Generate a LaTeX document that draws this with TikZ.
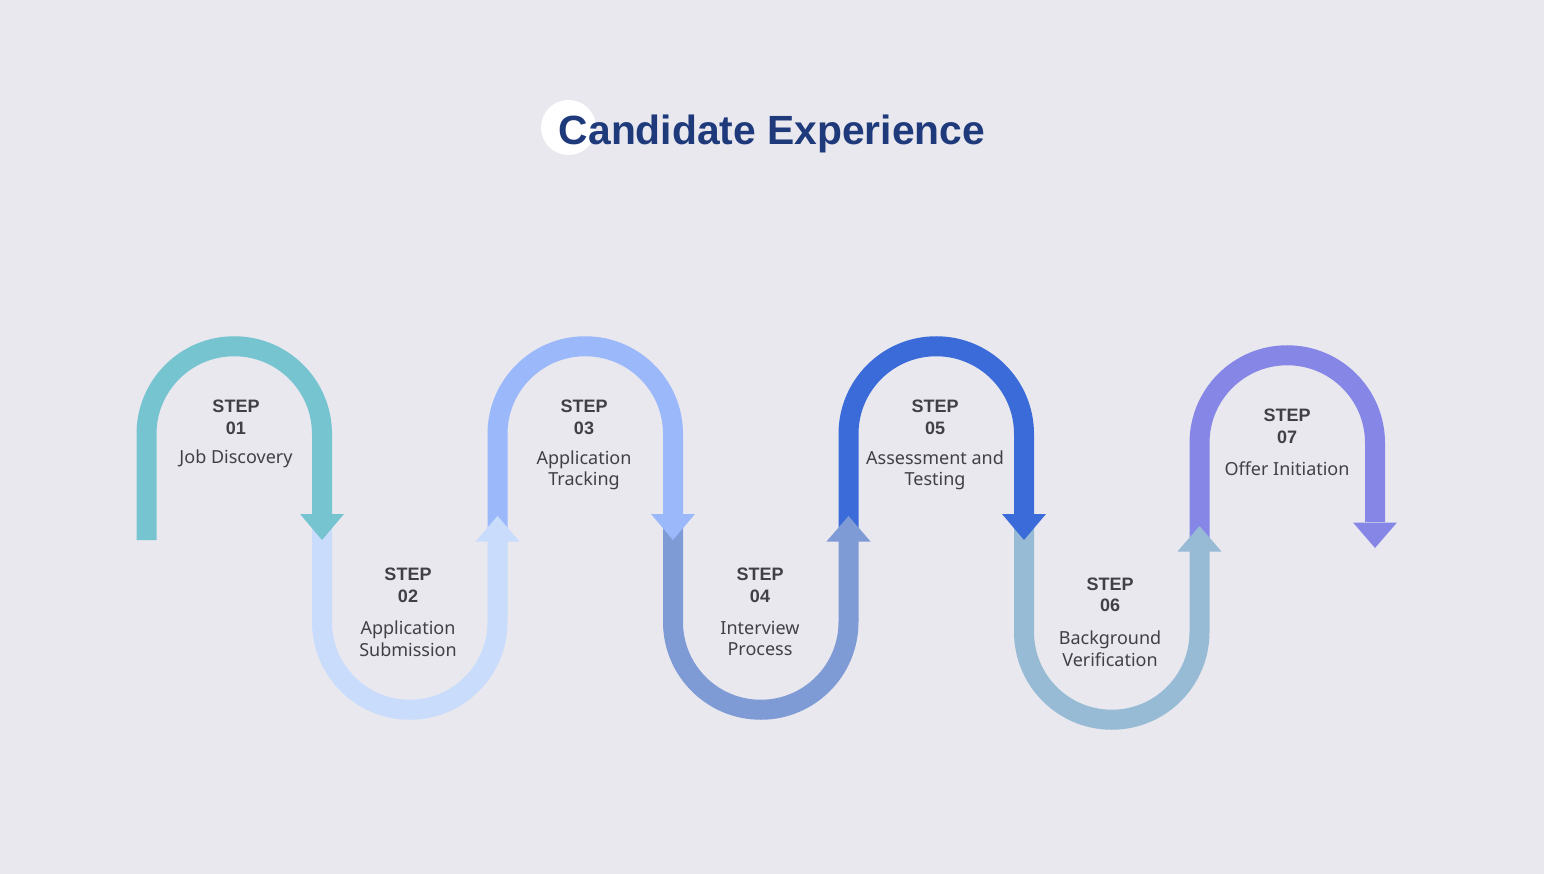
\documentclass[tikz,border=0pt]{standalone}
\usepackage{fontspec}
\setmainfont{Noto Sans}
\newfontfamily\hfont{Liberation Sans}
\definecolor{bg}{HTML}{E9E8EF}
\definecolor{ttl}{HTML}{1E3A7B}
\definecolor{txt}{HTML}{404046}
\definecolor{cA}{HTML}{77C4D1}
\definecolor{cB}{HTML}{C9DCFC}
\definecolor{cC}{HTML}{9BB8FA}
\definecolor{cD}{HTML}{7F9BD5}
\definecolor{cE}{HTML}{3A6BD9}
\definecolor{cF}{HTML}{97BBD5}
\definecolor{cG}{HTML}{8686E6}
\tikzset{
  band/.style={line width=20pt, line cap=butt},
  stephead/.style={font=\hfont\bfseries\fontsize{18}{21.5}\selectfont, text=txt, align=center, inner sep=0pt},
  stepdesc/.style={font=\fontsize{18}{21.5}\selectfont, text=txt, align=center, inner sep=0pt},
}
\begin{document}
\begin{tikzpicture}[x=1pt,y=-1pt]
\fill[bg] (0,0) rectangle (1544,874);
\useasboundingbox (0,0) rectangle (1544,874);
% title
\fill[white] (568.5,127.5) circle[radius=27.5];
\node[font=\hfont\bfseries\fontsize{40.8}{48}\selectfont, text=ttl, inner sep=0pt, anchor=base] (title) at (772,145) {Candidate Experience};
% leg x positions
\def\La{146.5}\def\Lb{322}\def\Lc{497.5}\def\Ld{673}\def\Le{848.5}\def\Lf{1024}\def\Lg{1199.5}\def\Lh{1375}
% bands
\draw[band, cA] (\La,540) -- (\La,434) arc[start angle=180,end angle=360,radius=87.75] -- (\Lb,514);
\draw[band, cB] (\Lb,514) -- (\Lb,622) arc[start angle=180,end angle=0,radius=87.75] -- (\Lc,541);
\draw[band, cC] (\Lc,530) -- (\Lc,434) arc[start angle=180,end angle=360,radius=87.75] -- (\Ld,514);
\draw[band, cD] (\Ld,514) -- (\Ld,622) arc[start angle=180,end angle=0,radius=87.75] -- (\Le,541);
\draw[band, cE] (\Le,530) -- (\Le,434) arc[start angle=180,end angle=360,radius=87.75] -- (\Lf,514);
\draw[band, cF] (\Lf,514) -- (\Lf,632) arc[start angle=180,end angle=0,radius=87.75] -- (\Lg,551);
\draw[band, cG] (\Lg,540) -- (\Lg,443) arc[start angle=180,end angle=360,radius=87.75] -- (\Lh,522);
% arrow heads
\fill[cA] (\Lb-22,514) -- (\Lb+22,514) -- (\Lb,540) -- cycle;
\fill[cB] (\Lc-22,541.5) -- (\Lc+22,541.5) -- (\Lc,516) -- cycle;
\fill[cC] (\Ld-22,514) -- (\Ld+22,514) -- (\Ld,540) -- cycle;
\fill[cD] (\Le-22,541.5) -- (\Le+22,541.5) -- (\Le,516) -- cycle;
\fill[cE] (\Lf-22,514) -- (\Lf+22,514) -- (\Lf,540) -- cycle;
\fill[cF] (\Lg-22,551.5) -- (\Lg+22,551.5) -- (\Lg,526) -- cycle;
\fill[cG] (\Lh-22,522.5) -- (\Lh+22,522.5) -- (\Lh,548) -- cycle;
% labels
\node[stephead] (h1) at (236,417.5) {STEP\\01};
\node[stepdesc] (d1) at (236,459) {Job Discovery};
\node[stephead] (h2) at (408,585.5) {STEP\\02};
\node[stepdesc] (d2) at (408,638.5) {Application\\Submission};
\node[stephead] (h3) at (584,417.5) {STEP\\03};
\node[stepdesc] (d3) at (584,470.5) {Application\\Tracking};
\node[stephead] (h4) at (760,585.5) {STEP\\04};
\node[stepdesc] (d4) at (760,638.5) {Interview\\Process};
\node[stephead] (h5) at (935,417.5) {STEP\\05};
\node[stepdesc] (d5) at (935,470.5) {Assessment and\\Testing};
\node[stephead] (h6) at (1110,595) {STEP\\06};
\node[stepdesc] (d6) at (1110,648.5) {Background\\Verification};
\node[stephead] (h7) at (1287,426.5) {STEP\\07};
\node[stepdesc] (d7) at (1287,468.5) {Offer Initiation};
\end{tikzpicture}
\end{document}
